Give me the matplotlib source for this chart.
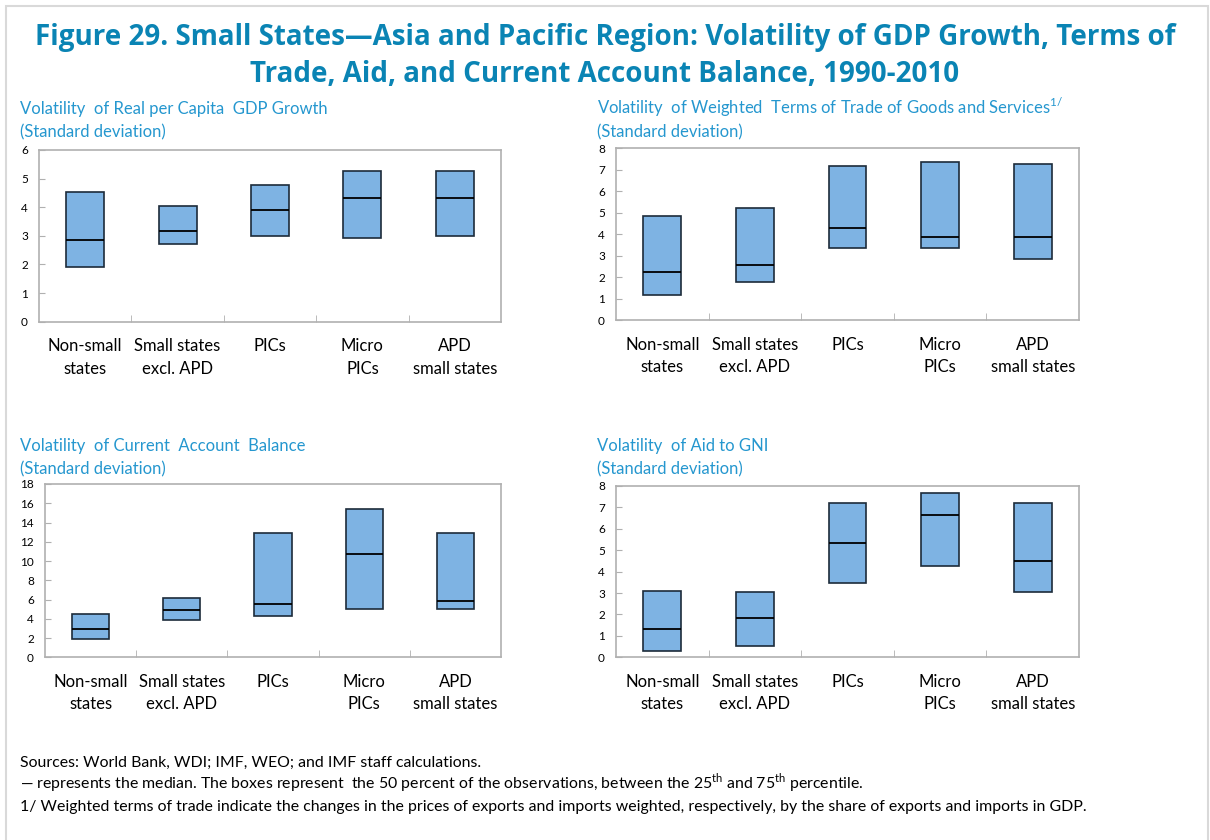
import matplotlib.pyplot as plt
from matplotlib.patches import Rectangle

plt.rcParams['mathtext.fontset'] = 'custom'
plt.rcParams['mathtext.rm'] = 'Lato'

categories = ['Non-small\nstates', 'Small states\nexcl. APD', 'PICs', 'Micro\nPICs', 'APD\nsmall states']

# 25th percentile, median, 75th percentile
gdp_p25 = [1.92, 2.70, 3.01, 2.94, 3.01]
gdp_med = [2.87, 3.17, 3.92, 4.31, 4.31]
gdp_p75 = [4.52, 4.06, 4.77, 5.26, 5.26]

tot_p25 = [1.16, 1.78, 3.35, 3.35, 2.87]
tot_med = [2.23, 2.56, 4.28, 3.89, 3.89]
tot_p75 = [4.87, 5.24, 7.16, 7.38, 7.29]

ca_p25 = [1.87, 3.84, 4.26, 5.05, 5.05]
ca_med = [2.98, 4.95, 5.57, 10.73, 5.85]
ca_p75 = [4.46, 6.16, 12.94, 15.40, 12.94]

aid_p25 = [0.28, 0.53, 3.46, 4.28, 3.05]
aid_med = [1.31, 1.84, 5.34, 6.65, 4.50]
aid_p75 = [3.10, 3.05, 7.19, 7.66, 7.19]

title_col = '#0A84B4'
sub_col = '#2597CF'
box_col = '#7EB3E3'
spine_col = '#B0B0B0'

fig = plt.figure(figsize=(12.1, 8.4), dpi=100)

# thin frame round the figure
fig.patches.append(Rectangle((0.005, -0.01), 0.993, 1.003, transform=fig.transFigure,
                             fill=False, edgecolor='#D9D9D9', lw=1.5))

fig.text(0.5, 1 - 37 / 840, 'Figure 29. Small States\u2014Asia and Pacific Region: Volatility of GDP Growth, Terms of',
         ha='center', va='center', fontsize=20, fontweight='bold', color=title_col, family='Open Sans')
fig.text(0.5, 1 - 74 / 840, 'Trade, Aid, and Current Account Balance, 1990-2010',
         ha='center', va='center', fontsize=20, fontweight='bold', color=title_col, family='Open Sans')


def panel(rect, p25, med, p75, ymax, ystep, title, sub_x, sub_y):
    ax = fig.add_axes(rect)
    x = list(range(len(categories)))
    w = 0.41
    heights = [t - b for t, b in zip(p75, p25)]
    ax.bar(x, heights, bottom=p25, width=w, color=box_col, edgecolor='#1C2B3A', lw=1.2, zorder=2)
    ax.hlines(med, [i - w / 2 for i in x], [i + w / 2 for i in x], color='black', lw=1.3, zorder=3)
    ax.set_xlim(-0.5, len(categories) - 0.5)
    ax.set_ylim(0, ymax)
    ax.set_yticks(range(0, ymax + 1, ystep))
    ax.set_xticks(x)
    ax.set_xticklabels(categories, fontsize=12, family='Lato', linespacing=1.5)
    ax.set_xticks([i + 0.5 for i in x[:-1]], minor=True)
    ax.tick_params(axis='x', which='major', length=0, pad=12)
    ax.tick_params(axis='x', which='minor', direction='in', length=5, color=spine_col)
    ax.tick_params(axis='y', direction='in', length=4, color=spine_col, labelsize=8.5, pad=8)
    for lab in ax.get_yticklabels():
        lab.set_family('Lato')
    for s in ax.spines.values():
        s.set_color(spine_col)
        s.set_linewidth(1.2)
    fig.text(sub_x / 1210, 1 - sub_y / 840, title, fontsize=12, color=sub_col, family='Lato',
             va='baseline')
    fig.text(sub_x / 1210, 1 - (sub_y + 23) / 840, '(Standard deviation)', fontsize=12, color=sub_col,
             family='Lato', va='baseline')
    return ax


panel([39 / 1210, 1 - 321.7 / 840, 462 / 1210, 171.7 / 840], gdp_p25, gdp_med, gdp_p75, 6, 1,
      'Volatility  of Real per Capita  GDP Growth', 20, 114)
panel([616 / 1210, 1 - 320.3 / 840, 463 / 1210, 172 / 840], tot_p25, tot_med, tot_p75, 8, 1,
      'Volatility  of Weighted  Terms of Trade of Goods and Services$^{1/}$', 597, 114)
panel([45 / 1210, 1 - 657.3 / 840, 456 / 1210, 173.3 / 840], ca_p25, ca_med, ca_p75, 18, 2,
      'Volatility  of Current  Account  Balance', 20, 451)
panel([616 / 1210, 1 - 657.3 / 840, 463 / 1210, 171.3 / 840], aid_p25, aid_med, aid_p75, 8, 1,
      'Volatility  of Aid to GNI', 597, 451)

foot = ['Lato', 'DejaVu Sans']
fig.text(20 / 1210, 1 - 767 / 840, 'Sources: World Bank, WDI; IMF, WEO; and IMF staff calculations.',
         fontsize=11.4, family=foot, va='baseline')
fig.text(20 / 1210, 1 - 789 / 840,
         '\u2014 represents the median. The boxes represent  the 50 percent of the observations, between the 25$^{\\rm th}$ and 75$^{\\rm th}$ percentile.',
         fontsize=11.4, family=foot, va='baseline')
fig.text(20 / 1210, 1 - 811 / 840,
         '1/ Weighted terms of trade indicate the changes in the prices of exports and imports weighted, respectively, by the share of exports and imports in GDP.',
         fontsize=11.4, family=foot, va='baseline')

fig.savefig('out.png', dpi=100)
